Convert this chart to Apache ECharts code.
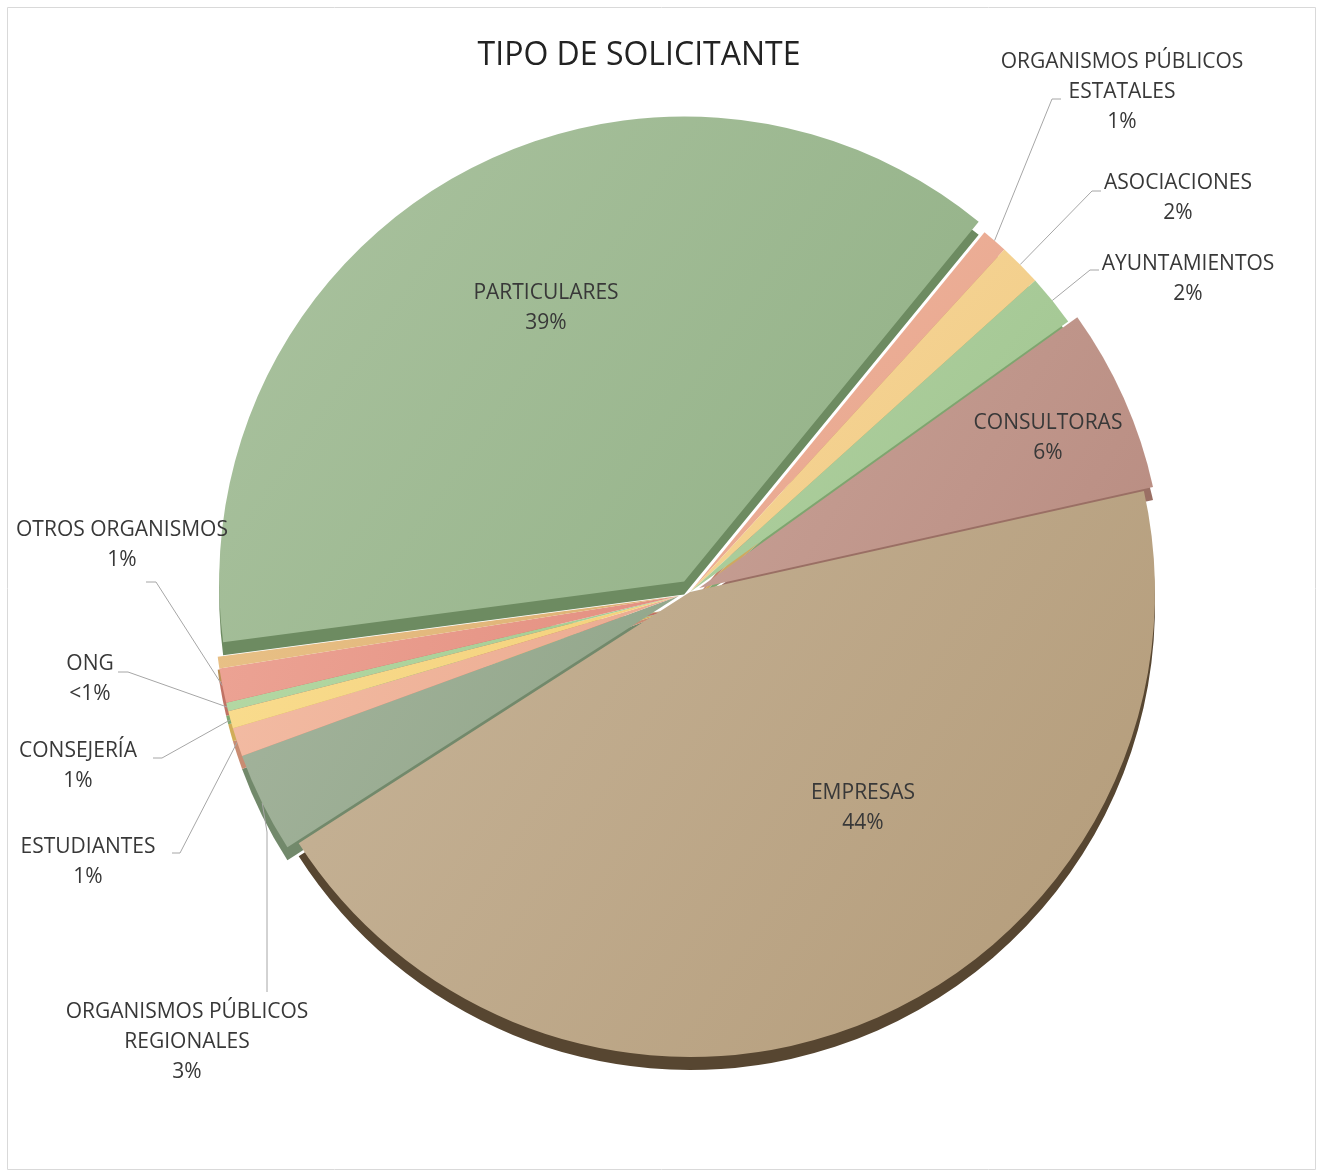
<!DOCTYPE html>
<html>
<head>
<meta charset="utf-8">
<title>Tipo de solicitante</title>
<script src="https://cdn.jsdelivr.net/npm/echarts@6/dist/echarts.min.js"></script>
<style>
  html, body { margin: 0; padding: 0; background: #fff; }
  #pie { width: 1323px; height: 1176px; }
</style>
</head>
<body>
<div id="pie"></div>
<script>
// categorías en sentido horario empezando por arriba a la derecha
const categories = [
  'ORGANISMOS PÚBLICOS\nESTATALES',
  'ASOCIACIONES',
  'AYUNTAMIENTOS',
  'CONSULTORAS',
  'EMPRESAS',
  'ORGANISMOS PÚBLICOS\nREGIONALES',
  'ESTUDIANTES',
  'CONSEJERÍA',
  'ONG',
  'OTROS ORGANISMOS',
  'OTROS',
  'PARTICULARES'
]
const values = [0.9, 1.5, 1.8, 6.4, 44.4, 3.5, 1.0, 0.6, 0.3, 1.2, 0.4, 38.0]
const percentLabels = ['1%', '2%', '2%', '6%', '44%', '3%', '1%', '1%', '<1%', '1%', '', '39%']
// porciones separadas: 0 = sin separar, 1 = consultoras, 2 = grupo izquierdo, 3 = particulares
const explodeGroup = [0, 0, 0, 1, 0, 2, 2, 2, 2, 2, 2, 3]
const explodeDist = [0, 10, 12, 12]

// colores: claro (arriba-izq), base, lateral (3D)
const lightColors = ['#efb39c', '#f7d79a', '#b2d2a2', '#c8a196', '#c7b498', '#a4b49d', '#f3bca4', '#f9dc8e', '#b4d8a4', '#eca394', '#e8c086', '#abc3a0']
const baseColors = ['#e6a48b', '#f0ca83', '#9fc48f', '#b98d82', '#b39b79', '#8fa487', '#eaa98e', '#f3d07a', '#a2cb91', '#e38f80', '#ddb073', '#91b085']
const sideColors = ['#c4836c', '#cfa860', '#7fa56f', '#9a6f64', '#574631', '#72896b', '#c98c72', '#d1ad58', '#7fa86f', '#c07264', '#b88f55', '#6d8b61']

// posición de las etiquetas (centro del bloque de texto)
const labelCenters = [
  [1122, 92], [1178, 198], [1188, 279], [1048, 438], [863, 808], [187, 1042],
  [88, 862], [78, 766], [90, 679], [122, 545], null, [546, 308]
]
// líneas guía: [codo, final]
const leaderEnds = [
  [[1052, 99], [1061, 99]],
  [[1092, 191], [1101, 191]],
  [[1090, 270], [1099, 270]],
  null,
  null,
  [[267, 832], [267, 992]],
  [[180, 853], [172, 853]],
  [[162, 758], [153, 758]],
  [[128, 672], [118, 672]],
  [[156, 582], [146, 582]],
  null,
  null
]
const insideLabels = ['CONSULTORAS', 'EMPRESAS', 'PARTICULARES']

const chart = echarts.init(document.getElementById('pie'))

const pieCenter = [690, 592]
const pieRadius = 465
const depth = 13
const startFromTop = 39.3 // grados, sentido horario desde las 12

const total = values.reduce((a, b) => a + b, 0)

// desplazamiento de cada grupo a lo largo de su ángulo medio
function groupShift(g) {
  if (!explodeDist[g]) return [0, 0]
  let cum = 0
  let a0 = null
  let a1 = null
  values.forEach((v, i) => {
    if (explodeGroup[i] === g) {
      if (a0 === null) a0 = cum
      a1 = cum + v
    }
    cum += v
  })
  const mid = ((startFromTop + (360 * (a0 + a1)) / 2 / total) * Math.PI) / 180
  return [explodeDist[g] * Math.sin(mid), -explodeDist[g] * Math.cos(mid)]
}

function placeLabel(params) {
  const i = params.dataIndex
  const pos = labelCenters[i]
  if (!pos) return {}
  const out = { x: pos[0], y: pos[1], align: 'center', verticalAlign: 'middle' }
  const lead = leaderEnds[i]
  if (lead && params.labelLinePoints) {
    out.labelLinePoints = [params.labelLinePoints[0], lead[0], lead[1]]
  }
  return out
}

const series = []
;[0, 1, 2, 3].forEach((g) => {
  const s = groupShift(g)
  // cara lateral (efecto 3D)
  series.push({
    type: 'pie',
    center: [pieCenter[0] + s[0], pieCenter[1] + s[1] + depth],
    radius: pieRadius,
    startAngle: 90 - startFromTop,
    clockwise: true,
    silent: true,
    z: 1,
    label: { show: false },
    labelLine: { show: false },
    emphasis: { disabled: true },
    data: categories.map((c, i) => ({
      name: c,
      value: values[i],
      itemStyle: { color: explodeGroup[i] === g ? sideColors[i] : 'transparent', borderWidth: 0 }
    }))
  })
  // cara superior
  series.push({
    type: 'pie',
    center: [pieCenter[0] + s[0], pieCenter[1] + s[1]],
    radius: pieRadius,
    startAngle: 90 - startFromTop,
    clockwise: true,
    silent: true,
    avoidLabelOverlap: false,
    z: 2,
    emphasis: { disabled: true },
    label: {
      color: '#383838',
      fontFamily: 'Open Sans',
      fontSize: 21,
      lineHeight: 30,
      align: 'center',
      formatter: (p) => p.name + '\n' + percentLabels[p.dataIndex]
    },
    labelLine: {
      length: 10,
      length2: 10,
      lineStyle: { color: '#a6a6a6', width: 1 }
    },
    labelLayout: placeLabel,
    data: categories.map((c, i) => {
      const mine = explodeGroup[i] === g
      const inside = insideLabels.indexOf(c) >= 0
      const shown = mine && percentLabels[i] !== ''
      return {
        name: c,
        value: values[i],
        itemStyle: {
          borderWidth: 0,
          color: mine
            ? new echarts.graphic.LinearGradient(0, 0, 1, 1, [
                { offset: 0, color: lightColors[i] },
                { offset: 1, color: baseColors[i] }
              ])
            : 'transparent'
        },
        label: { show: shown, position: inside ? 'inside' : 'outside' },
        labelLine: { show: shown && !inside }
      }
    })
  })
})

const option = {
  animation: false,
  graphic: [
    {
      type: 'rect',
      shape: { x: 7.5, y: 7.5, width: 1308, height: 1162 },
      style: { fill: 'none', stroke: '#d9d9d9', lineWidth: 1 },
      silent: true
    },
    {
      type: 'text',
      x: 639,
      y: 56,
      style: {
        text: 'TIPO DE SOLICITANTE',
        fill: '#222222',
        font: '32px "Open Sans"',
        textAlign: 'center',
        textVerticalAlign: 'middle'
      },
      silent: true
    }
  ],
  series: series
}

chart.setOption(option)
window.addEventListener('resize', () => {
  chart.resize()
})
</script>
</body>
</html>
